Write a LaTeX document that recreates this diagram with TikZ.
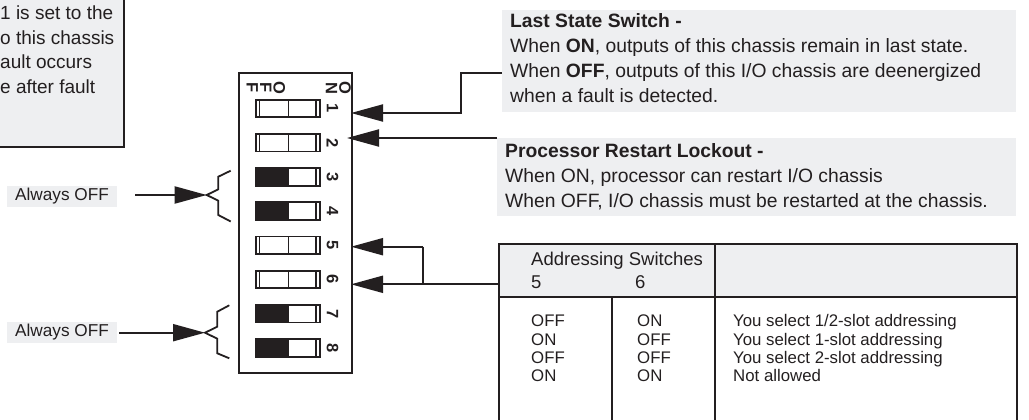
\documentclass[tikz,border=0pt]{standalone}
\usepackage{fontspec}
\setmainfont{Liberation Sans}
\usetikzlibrary{arrows.meta}
\definecolor{ink}{HTML}{231F20}
\definecolor{pale}{HTML}{EEEFF1}
\tikzset{
  ln/.style={draw=ink, line width=2pt},
  tip/.style={-{Triangle[length=32pt,width=17pt]}},
  body/.style={font=\fontsize{19.3}{25}\selectfont, text=ink, inner sep=0pt, align=left, anchor=base west},
  thead/.style={font=\fontsize{18.5}{23}\selectfont, text=ink, inner sep=0pt, align=left, anchor=base west},
  tbl/.style={font=\fontsize{16.8}{18.3}\selectfont, text=ink, inner sep=0pt, align=left, anchor=base west},
  gbox/.style={fill=pale, draw=none, inner sep=0pt, anchor=north west},
  swbox/.style={draw=ink, line width=1.8pt, minimum width=64.3pt, minimum height=17.5pt, inner sep=0pt},
  swlbl/.style={rotate=-90, text=ink, inner sep=0pt, font=\bfseries\fontsize{16.5}{13.5}\selectfont, align=center},
  brk/.style={draw=ink, line width=1.8pt},
  offlbl/.style={fill=pale, inner sep=0pt, minimum width=110pt, minimum height=21pt, text=ink, font=\fontsize{17.2}{20}\selectfont},
}
\begin{document}
\begin{tikzpicture}[x=1pt,y=-1pt]
\useasboundingbox (0,0) rectangle (1029,420);
\clip (0,0) rectangle (1029,420);

% note box (cut off at top-left); multi-line nodes are placed at the baseline of their last line
\node[fill=pale, draw=ink, line width=2pt, inner sep=0pt, minimum width=140pt, minimum height=170pt, anchor=south east] (note) at (125,148) {};
\node[body, font=\fontsize{19}{24.5}\selectfont] (notetext) at (0,93) {1 is set to the\\o this chassis\\ault occurs\\e after fault};

% Last state box
\node[gbox, minimum width=514pt, minimum height=102pt] (ls) at (502,10) {};
\node[body] (lstext) at (510,102.5) {\textbf{Last State Switch -}\\When \textbf{ON}, outputs of this chassis remain in last state.\\When \textbf{OFF}, outputs of this I/O chassis are deenergized\\when a fault is detected.};
\coordinate (lsin) at (502,73);

% Processor box
\node[gbox, minimum width=519pt, minimum height=78pt] (pr) at (497,138) {};
\node[body] (prtext) at (505,207) {\textbf{Processor Restart Lockout -}\\When ON, processor can restart I/O chassis\\When OFF, I/O chassis must be restarted at the chassis.};
\coordinate (prin) at (497,138);

% DIP switch
\node[draw=ink, line width=2pt, inner sep=0pt, minimum width=113pt, minimum height=300pt, anchor=north west] (dip) at (238,72) {};
\node[swlbl] (on) at (338.5,88) {O\\N};
\node[swlbl] (off) at (266,88) {O\\F\\F};
\foreach \i in {1,...,8}{
  \pgfmathsetmacro{\yy}{108.5+(\i-1)*34.2}
  \ifnum\i=3 \fill[ink] (255.7,\yy-8.75) rectangle (288.3,\yy+8.75);\fi
  \ifnum\i=4 \fill[ink] (255.7,\yy-8.75) rectangle (288.3,\yy+8.75);\fi
  \ifnum\i=7 \fill[ink] (255.7,\yy-8.75) rectangle (288.3,\yy+8.75);\fi
  \ifnum\i=8 \fill[ink] (255.7,\yy-8.75) rectangle (288.3,\yy+8.75);\fi
  \node[swbox] (sw\i) at (287.85,\yy) {};
  \draw[ink, line width=1.5pt] (259.6,\yy-8.75) -- (259.6,\yy+8.75);
  \draw[ink, line width=1.5pt] (288.3,\yy-8.75) -- (288.3,\yy+8.75);
  \draw[ink, line width=1.5pt] (316.0,\yy-8.75) -- (316.0,\yy+8.75);
  \node[swlbl] (n\i) at (332.5,\yy) {\i};
}

% arrow targets on the DIP box edge
\coordinate (a1) at (351,113);
\coordinate (a2) at (347,138);
\coordinate (a5) at (351,246.7);
\coordinate (a6) at (351,284.3);
\coordinate (k1) at (461,73);
\coordinate (k5) at (423,246.7);

\draw[ln,tip] (lsin) -- (k1) |- (a1);
\draw[ln,tip] (prin) -- (a2);

% table
\fill[pale] (498,243) rectangle (1016,296.7);
\node[draw=ink, line width=2pt, inner sep=0pt, minimum width=518pt, minimum height=200pt, anchor=north west] (tab) at (498,243) {};
\draw[ln] (498,296.7) -- (1016,296.7);
\draw[ln] (715,243) -- (715,440);
\draw[ln] (612,296.7) -- (612,440);
\node[thead] (h1) at (531,265) {Addressing Switches};
\node[thead] (h5) at (531,288) {5};
\node[thead] (h6) at (635,288) {6};
\node[tbl] (c1) at (531,381.6) {OFF\\ON\\OFF\\ON};
\node[tbl] (c2) at (637,381.6) {ON\\OFF\\OFF\\ON};
\node[tbl] (c3) at (733,381.6) {You select 1/2-slot addressing\\You select 1-slot addressing\\You select 2-slot addressing\\Not allowed};
\coordinate (tabin) at (498,284.3);

\draw[ln,tip] (tabin) -- (a6);
\draw[ln,tip] (k5) -- (a5);
\draw[ln] (k5) -- (k5 |- a6);

% Always OFF labels with brackets
\node[offlbl] (off1) at (62,196.3) {Always OFF};
\node[offlbl] (off2) at (62,332.3) {Always OFF};
\coordinate (b1) at (206.7,195);
\coordinate (b2) at (205,332.7);
\coordinate (s1) at (135,195);
\coordinate (s2) at (119,332.7);
\draw[ln,tip] (s1) -- (b1);
\draw[ln,tip] (s2) -- (b2);
\draw[brk] (230.7,170.7) -- (218.3,176.7) -- (218.3,189.3) -- (b1) -- (218.3,200.7) -- (218.3,215) -- (230.7,221.5);
\draw[brk] (229.3,305.3) -- (217.3,311.7) -- (217.3,326.7) -- (b2) -- (217.3,338.7) -- (217.3,353.3) -- (229.3,358.3);
\end{tikzpicture}
\end{document}
